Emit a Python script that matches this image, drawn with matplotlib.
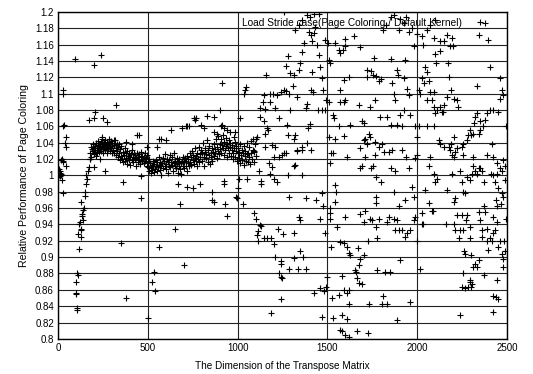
import numpy as np
import matplotlib
matplotlib.use('Agg')
import matplotlib.pyplot as plt

# Points, grouped by region of the x axis
# start of the curve (x < 200)
start_x = [2, 5, 8, 10, 12, 15, 7, 18, 20, 15, 25, 22, 25, 30, 30, 35, 40, 42, 45, 45, 28, 30,
           93, 97, 100, 102, 104, 106, 108, 110,
           118, 112, 115, 120, 125, 128, 130, 132, 135, 130, 140, 145, 140, 148, 150, 155, 160,
           158, 165, 170, 175, 178]
start_y = [0.998, 1.0, 1.003, 0.999, 1.005, 1.002, 1.008, 1.0, 1.02, 1.019, 1.018, 0.994, 0.978,
           1.017, 1.06, 1.062, 1.04, 1.035, 1.047, 1.012, 1.105, 1.1,
           1.143, 0.87, 0.855, 0.856, 0.838, 0.835, 0.88, 0.878,
           0.91, 0.928, 0.94, 0.943, 0.925, 0.933, 0.935, 0.95, 0.953, 0.967, 0.958, 0.96, 0.945,
           0.975, 0.98, 0.99, 0.995, 1.0, 1.005, 1.01, 1.02, 1.02]

# the dense band between 180 and 1100
band_x = [180, 183, 186, 190, 192, 195, 198, 200, 203, 205, 208, 210, 213, 215, 218, 220, 222, 225,
          228, 230, 232, 235, 238, 240, 242, 245, 248, 250, 252, 255, 258, 260, 262, 265, 268, 270,
          272, 275, 278, 280, 283, 285, 288, 290, 293, 295, 298, 300,
          303, 306, 310, 313, 316, 320, 323, 326, 330, 333, 336, 340, 343, 346, 350, 353, 356, 360,
          363, 366, 370, 373, 376, 380, 383, 386, 390, 393, 396, 400, 403, 406, 410, 413, 416, 420,
          423, 426, 430, 433, 436, 440, 443, 446, 450, 453, 456, 460, 463, 466, 470, 473, 476, 480,
          483, 486, 490, 493, 496, 500,
          503, 506, 509, 512, 515, 518, 521, 524, 527, 530, 533, 536, 540, 543, 546, 550, 553, 556,
          560, 563, 566, 570, 573, 576, 580, 583, 586, 590, 593, 596, 600, 603, 606, 610, 613, 616,
          620, 623, 626, 630, 633, 636, 640, 643, 646, 650, 653, 656, 660, 663, 666, 670, 673, 676,
          680, 683, 686, 690, 693, 696, 700,
          703, 706, 710, 713, 716, 720, 723, 726, 730, 733, 736, 740, 743, 746, 750, 753, 756, 760,
          763, 766, 770, 773, 776, 780, 783, 786, 790, 793, 796, 800, 803, 806, 810, 813, 816, 820,
          823, 826, 830, 833, 836, 840, 843, 846, 850, 853, 856, 860, 863, 866, 870, 873, 876, 880,
          883, 886, 890, 893, 896, 900,
          903, 906, 910, 913, 916, 920, 923, 926, 930, 933, 936, 940, 943, 946, 950, 953, 956, 960,
          963, 966, 970, 973, 976, 980, 983, 986, 990, 993, 996, 1000, 1003, 1006, 1010, 1013, 1016,
          1020, 1023, 1026, 1030, 1033, 1036, 1040, 1043, 1046, 1050, 1053, 1056, 1060, 1063, 1066,
          1070, 1073, 1076, 1080, 1083, 1086, 1090, 1093, 1096, 1100]
band_y = [1.028, 1.035, 1.022, 1.032, 1.03, 1.038, 1.026, 1.033, 1.029, 1.036, 1.031, 1.024, 1.04,
          1.033, 1.028, 1.037, 1.031, 1.042, 1.035, 1.029, 1.038, 1.034, 1.041, 1.03, 1.036, 1.044,
          1.032, 1.038, 1.027, 1.04, 1.035, 1.043, 1.031, 1.037, 1.033, 1.041, 1.028, 1.036, 1.039,
          1.032, 1.044, 1.035, 1.03, 1.038, 1.042, 1.033, 1.027, 1.036,
          1.04, 1.031, 1.037, 1.028, 1.043, 1.034, 1.025, 1.038, 1.03, 1.022, 1.035, 1.027, 1.019,
          1.032, 1.024, 1.036, 1.02, 1.029, 1.016, 1.025, 1.033, 1.018, 1.027, 1.021, 1.03, 1.014,
          1.024, 1.019, 1.028, 1.022, 1.013, 1.026, 1.019, 1.031, 1.023, 1.016, 1.027, 1.02, 1.025,
          1.012, 1.021, 1.028, 1.017, 1.023, 1.019, 1.026, 1.014, 1.022, 1.029, 1.018, 1.024, 1.02,
          1.015, 1.023, 1.027, 1.018, 1.021, 1.012, 1.025, 1.017,
          1.01, 1.02, 1.006, 1.015, 1.009, 1.003, 1.013, 1.007, 1.018, 1.011, 1.004, 1.014, 1.008,
          1.019, 1.012, 1.005, 1.016, 1.01, 1.022, 1.013, 1.007, 1.017, 1.011, 1.001, 1.015, 1.021,
          1.009, 1.018, 1.012, 1.026, 1.014, 1.008, 1.02, 1.016, 1.003, 1.012, 1.019, 1.025, 1.01,
          1.017, 1.013, 1.022, 1.006, 1.015, 1.028, 1.012, 1.018, 1.009, 1.021, 1.014, 1.003, 1.016,
          1.011, 1.02, 1.008, 1.015, 1.002, 1.018, 1.012, 1.023, 1.009,
          1.016, 1.021, 1.012, 1.018, 1.006, 1.024, 1.015, 1.02, 1.011, 1.027, 1.017, 1.022, 1.013,
          1.03, 1.019, 1.025, 1.014, 1.021, 1.033, 1.018, 1.024, 1.011, 1.028, 1.02, 1.035, 1.016,
          1.026, 1.022, 1.031, 1.018, 1.027, 1.04, 1.023, 1.012, 1.029, 1.034, 1.021, 1.026, 1.043,
          1.017, 1.031, 1.025, 1.036, 1.014, 1.028, 1.022, 1.033, 1.018, 1.029, 1.038, 1.024, 1.032,
          1.027, 1.045, 1.021, 1.035, 1.03, 1.048, 1.026, 1.038,
          1.032, 1.044, 1.028, 1.037, 1.05, 1.034, 1.025, 1.041, 1.031, 1.046, 1.036, 1.022, 1.039,
          1.033, 1.043, 1.027, 1.035, 1.04, 1.024, 1.031, 1.037, 1.02, 1.028, 1.034, 1.041, 1.023,
          1.03, 1.036, 1.018, 1.027, 1.033, 1.021, 1.029, 1.039, 1.015, 1.025, 1.031, 1.019, 1.027,
          1.036, 1.013, 1.024, 1.03, 1.018, 1.026, 1.04, 1.016, 1.028, 1.022, 1.035, 1.014, 1.027,
          1.042, 1.02, 1.031, 1.045, 1.017, 1.029, 1.038, 1.024]

# outliers around the band (200 - 1100)
mid_x = [200, 240, 170, 200, 205, 250, 270, 320, 200, 235, 260, 290,
         360, 350, 380, 450, 460, 460, 525, 535, 540, 500, 560, 560, 650, 700, 670, 680, 720, 750,
         790, 830, 860, 860, 870, 900, 915, 925, 925, 930, 940, 990, 995, 1000, 1010, 1030, 1050,
         1040, 1045, 1035, 760, 770, 720, 730,
         868, 886, 905, 914, 923, 942, 960, 979, 988, 1016, 868, 812, 794, 757, 710, 692, 627, 599,
         571, 553, 497, 441, 414, 377, 340, 312, 247]
mid_y = [1.135, 1.147, 1.068, 1.07, 1.078, 1.07, 1.065, 1.086, 1.01, 1.02, 1.005, 1.04,
         0.992, 0.917, 0.85, 1.05, 0.972, 0.999, 0.87, 0.882, 0.859, 0.826, 0.912, 1.045, 0.935,
         0.89, 0.99, 0.965, 0.986, 0.985, 0.99, 1.073, 0.98, 0.97, 0.968, 1.08, 1.113, 0.993, 0.99,
         0.965, 0.95, 0.973, 0.972, 0.985, 0.995, 0.965, 0.995, 1.105, 1.108, 1.1, 1.068, 1.07,
         1.06, 1.06,
         1.053, 1.051, 1.06, 1.062, 1.058, 1.056, 1.053, 1.047, 1.053, 1.07, 1.072, 1.058, 1.062,
         1.07, 1.06, 1.058, 1.056, 1.043, 1.045, 1.035, 1.035, 1.05, 1.039, 1.041, 1.039, 1.043,
         1.047]

# scattered region 1100 - 1500
r1_x = [1159, 1146, 1140, 1124, 1155, 1127, 1146, 1165, 1170, 1155, 1109, 1100, 1092, 1118, 1131,
        1128, 1090, 1105, 1127, 1115, 1109, 1114, 1146, 1131, 1161, 1187, 1202, 1187, 1211, 1224,
        1239, 1243, 1230, 1239, 1245, 1239, 1254, 1180, 1193, 1202, 1205, 1220, 1230, 1211, 1193,
        1174, 1150, 1180, 1198, 1220, 1239, 1257, 1272, 1285, 1279, 1270, 1294, 1307, 1261, 1294,
        1230, 1211, 1183, 1276, 1279, 1272, 1257, 1248, 1279, 1285, 1313, 1322, 1331, 1313, 1318,
        1329, 1361, 1313, 1313, 1340, 1346, 1350, 1365, 1383, 1335, 1285, 1361, 1379, 1407, 1435,
        1424, 1461, 1470, 1461, 1470, 1476, 1489, 1483, 1498, 1494, 1331, 1313, 1340, 1350, 1361,
        1368, 1379, 1387, 1396, 1409, 1415, 1415, 1407, 1420, 1424, 1433, 1442, 1452, 1461, 1470,
        1476, 1446, 1470, 1424, 1452, 1361, 1340, 1322, 1385, 1403, 1391, 1403, 1361, 1387]
r1_y = [1.123, 1.098, 1.09, 1.083, 1.081, 1.072, 1.067, 1.058, 1.055, 1.051, 1.047, 1.045, 1.03,
        1.006, 0.99, 0.993, 0.954, 0.947, 0.939, 0.932, 0.927, 0.92, 0.924, 0.938, 0.923, 0.924,
        0.916, 0.832, 0.9, 0.935, 0.895, 0.891, 0.881, 0.876, 0.874, 0.849, 0.928, 1.002, 1.01,
        1.022, 0.996, 0.992, 1.022, 1.035, 1.037, 1.015, 1.035, 1.1, 1.1, 1.098, 1.102, 1.104,
        1.103, 1.1, 1.146, 1.134, 1.125, 1.11, 1.2, 1.08, 1.07, 1.082, 1.09, 1.062, 1.05, 1.027,
        1.027, 1.025, 1.0, 0.974, 1.045, 1.049, 1.03, 1.011, 1.013, 1.031, 1.031, 0.929, 0.899,
        0.949, 0.945, 0.908, 0.9, 0.885, 0.886, 0.886, 1.0, 0.972, 1.031, 0.97, 0.856, 0.862,
        0.827, 0.947, 0.978, 0.962, 0.929, 0.858, 0.876, 0.864, 1.096, 1.123, 1.129, 1.137, 1.151,
        1.162, 1.083, 1.087, 1.176, 1.172, 1.164, 1.127, 1.104, 1.102, 1.174, 1.182, 1.16, 1.147,
        1.133, 1.119, 1.105, 1.08, 1.08, 1.198, 1.197, 1.19, 1.184, 1.178, 1.196, 1.194, 1.058,
        1.063, 1.035, 1.04]

# scattered region 1500 - 2000
r2_x = [1489, 1504, 1507, 1516, 1489, 1494, 1507, 1531, 1535, 1507, 1513, 1522, 1531, 1545, 1550,
        1545, 1516, 1516, 1513, 1522, 1554, 1563, 1525, 1531, 1569, 1582, 1600, 1619, 1591, 1619,
        1610, 1582, 1610, 1619, 1573, 1591, 1610, 1619, 1628, 1582, 1600, 1656, 1661, 1665, 1674,
        1669, 1680, 1676, 1665, 1724, 1693, 1706, 1730, 1724, 1711, 1684, 1702, 1736, 1750,
        1545, 1563, 1569, 1587, 1591, 1600, 1600, 1619, 1573, 1573, 1591, 1600, 1624, 1647, 1680,
        1676, 1693, 1706, 1719, 1741, 1752, 1759, 1719, 1737, 1764, 1788, 1800, 1772, 1795, 1811,
        1829, 1852, 1870, 1897, 1907, 1925, 1940, 1952, 1970, 1852, 1861, 1870, 1879, 1888, 1892,
        1925, 1933, 1942, 1952, 1961, 1925, 1907, 1833, 1855, 1888, 1916, 1989, 1980, 2000,
        1545, 1563, 1591, 1610, 1680, 1693, 1684, 1702, 1711, 1711, 1719, 1730, 1737, 1743, 1755,
        1764, 1764, 1769, 1772, 1769, 1790, 1800, 1805, 1818, 1842, 1852, 1861, 1879, 1916, 1870,
        1897, 1933, 1939, 1952, 1970, 1980, 1989, 1998, 1998,
        1772, 1790, 1776, 1833, 1842, 1870, 1879, 1888, 1897, 1916, 1933, 1942, 1961, 1989, 1980,
        1998, 1907, 1774, 1820, 1811, 1805, 1833, 1888, 1961, 1848]
r2_y = [1.166, 1.162, 1.141, 1.137, 1.08, 1.092, 1.09, 1.074, 1.07, 1.047, 1.015, 1.027, 1.028,
        0.988, 0.98, 0.968, 0.96, 0.954, 0.947, 0.912, 0.937, 0.854, 0.85, 0.825, 0.811, 0.809,
        0.805, 0.802, 0.86, 0.86, 0.856, 0.829, 0.824, 0.843, 0.919, 0.917, 0.913, 0.905, 0.902,
        0.877, 0.949, 0.884, 0.882, 0.874, 0.868, 0.911, 0.898, 0.89, 0.809, 0.807, 0.867, 0.902,
        0.843, 0.92, 0.957, 0.953, 0.943, 0.947, 0.945,
        1.162, 1.153, 1.15, 1.153, 1.117, 1.158, 1.167, 1.121, 1.105, 1.09, 1.09, 1.092, 1.062,
        1.17, 1.157, 1.086, 1.067, 1.064, 1.129, 1.128, 1.123, 1.144, 1.121, 1.084, 1.092, 1.116,
        1.118, 1.122, 1.072, 1.178, 1.184, 1.194, 1.196, 1.178, 1.192, 1.186, 1.194, 1.176, 1.18,
        1.143, 1.113, 1.1, 1.092, 1.129, 1.123, 1.119, 1.141, 1.106, 1.098, 1.074, 1.08, 1.074,
        1.072, 1.062, 1.062, 1.06, 1.06, 1.158, 1.173,
        1.045, 1.06, 1.048, 1.023, 1.033, 1.011, 1.009, 1.043, 1.045, 1.023, 1.039, 1.051, 1.047,
        1.009, 1.011, 1.041, 1.025, 0.998, 0.974, 0.966, 1.035, 0.992, 1.039, 1.029, 1.029, 1.009,
        1.031, 1.006, 1.031, 0.98, 0.962, 0.97, 1.023, 1.009, 0.986, 0.974, 1.021, 1.025, 1.047,
        0.937, 0.947, 0.924, 0.943, 0.949, 0.947, 0.933, 0.945, 0.933, 0.933, 0.925, 0.929, 0.933,
        0.949, 0.945, 0.92, 0.896, 0.884, 0.882, 0.853, 0.843, 0.843, 0.823, 0.845, 0.882]

# scattered region 2000 - 2500
r3_x = [2027, 2032, 2055, 2074, 2101, 2092, 2101, 2107, 2125, 2129, 2147, 2166, 2170, 2175, 2184,
        2194, 2199, 2188, 2203, 2221, 2227, 2045, 2055, 2027, 2036, 2064, 2009, 2014, 2055, 2074,
        2083, 2092, 2092, 2101, 2111, 2125, 2138, 2147, 2166, 2144,
        2009, 2055, 2092, 2120, 2129, 2147, 2175, 2188, 2203, 2184, 2194, 2207, 2221, 2212, 2249,
        2255, 2258, 2277, 2286, 2296, 2299, 2310, 2318, 2323, 2333, 2342, 2351, 2351, 2366, 2379,
        2388, 2407, 2425, 2453, 2462, 2471, 2462, 2481, 2407, 2397, 2347, 2351, 2333, 2314, 2351,
        2360, 2370, 2388, 2416, 2425, 2444, 2462, 2471, 2481, 2490, 2490, 2496, 2411, 2422, 2435,
        2444, 2481,
        2064, 2074, 2092, 2101, 2111, 2064, 2045, 2166, 2194, 2203, 2212, 2240, 2249, 2258, 2268,
        2277, 2296, 2305, 2314, 2323, 2333, 2342,
        2027, 2027, 2083, 2160, 2203, 2212, 2221, 2231, 2240, 2249, 2255, 2262, 2268, 2273, 2277,
        2292, 2296, 2299, 2305, 2299, 2296, 2314, 2323, 2336, 2347, 2351, 2347, 2360, 2364, 2370,
        2370, 2379, 2388, 2392, 2397, 2407, 2416, 2422, 2425, 2435, 2444, 2453, 2462, 2471, 2477,
        2481, 2485, 2490, 2496, 2440, 2447, 2466, 2471, 2453, 2425, 2425, 2438, 2444, 2453, 2240,
        2249, 2258, 2268, 2286, 2296, 2014, 2032, 2088]
r3_y = [1.17, 1.16, 1.178, 1.184, 1.19, 1.168, 1.149, 1.137, 1.164, 1.152, 1.164, 1.172, 1.138,
        1.121, 1.158, 1.168, 1.158, 1.104, 1.094, 1.092, 1.084, 1.133, 1.127, 1.119, 1.113, 1.115,
        1.105, 1.1, 1.092, 1.102, 1.092, 1.102, 1.084, 1.076, 1.08, 1.084, 1.078, 1.086, 1.096,
        1.077,
        1.06, 1.06, 1.06, 1.043, 1.039, 1.035, 1.035, 1.039, 1.047, 1.031, 1.025, 1.023, 1.033,
        1.029, 1.035, 1.025, 1.039, 1.043, 1.049, 1.055, 1.049, 1.051, 1.064, 1.072, 1.076, 1.051,
        1.055, 1.066, 1.06, 1.068, 1.076, 1.08, 1.08, 1.078, 1.094, 1.104, 1.119, 1.098, 1.133,
        1.166, 1.172, 1.188, 1.11, 1.023, 1.009, 1.005, 0.992, 1.025, 1.039, 1.023, 1.015, 1.009,
        1.005, 1.019, 1.011, 0.994, 1.06, 1.002, 1.0, 0.992, 1.002, 0.974,
        1.011, 1.023, 1.002, 0.992, 0.996, 0.966, 0.982, 0.982, 1.002, 0.968, 0.972, 1.006, 0.992,
        0.98, 0.978, 0.998, 0.994, 1.002, 1.011, 1.006, 1.002, 1.009,
        0.954, 0.94, 0.956, 0.94, 0.94, 0.933, 0.952, 0.923, 0.933, 0.952, 0.933, 0.908, 0.904,
        0.945, 0.952, 0.937, 0.923, 0.902, 0.867, 0.864, 0.872, 0.888, 0.892, 0.888, 0.896, 0.945,
        0.955, 0.925, 0.933, 0.962, 0.878, 0.955, 0.935, 0.92, 0.909, 0.923, 0.92, 0.929, 0.949,
        0.933, 0.943, 0.912, 0.92, 0.904, 0.898, 0.888, 0.92, 0.908, 0.947, 0.97, 0.962, 0.965,
        0.978, 0.984, 0.833, 0.853, 0.851, 0.872, 0.849, 0.829, 0.864, 0.88, 0.862, 0.864, 0.87,
        0.886, 0.94, 0.956]

dims = np.concatenate([start_x, band_x, mid_x, r1_x, r2_x, r3_x])
perf = np.concatenate([start_y, band_y, mid_y, r1_y, r2_y, r3_y])

plt.rcParams['font.family'] = ['Liberation Sans', 'DejaVu Sans']

fig = plt.figure(figsize=(5.33, 3.74), dpi=100)
ax = fig.add_axes([0.109, 0.094, 0.842, 0.874])

ax.plot(dims, perf, linestyle='none', marker='+', color='black',
        markersize=5, markeredgewidth=0.8,
        label='Load Stride case(Page Coloring / Default Kernel)')

ax.set_xlim(0, 2500)
ax.set_ylim(0.8, 1.2)
ax.set_xticks(np.arange(0, 2501, 500))
ax.set_yticks(np.round(np.arange(0.8, 1.2001, 0.02), 2))
ax.set_yticklabels([f'{v:g}' for v in np.round(np.arange(0.8, 1.2001, 0.02), 2)])
ax.tick_params(length=0, labelsize=7, pad=3)
ax.grid(True, color='#222222', linewidth=0.8)
ax.set_axisbelow(True)
for s in ax.spines.values():
    s.set_linewidth(1.0)

ax.set_xlabel('The Dimension of the Transpose Matrix', fontsize=7.2, labelpad=6)
ax.set_ylabel('Relative Performance of Page Coloring', fontsize=7.6, labelpad=4)

leg = ax.legend(loc='upper right', bbox_to_anchor=(0.982, 1.0), frameon=False,
                markerfirst=False, fontsize=7.3, handlelength=1.5,
                borderaxespad=0.2, handletextpad=1.5)

plt.savefig('out.png', dpi=100)
